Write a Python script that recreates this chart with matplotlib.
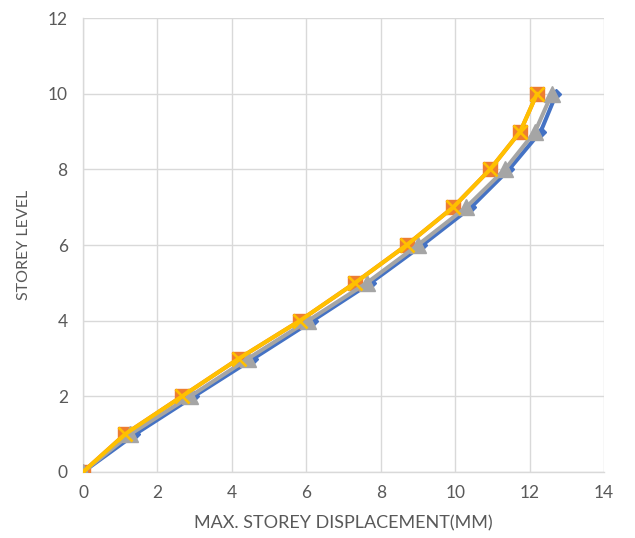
import matplotlib
matplotlib.use("Agg")
import matplotlib.pyplot as plt

storey = [0, 1, 2, 3, 4, 5, 6, 7, 8, 9, 10]
disp_blue = [0, 1.40, 2.98, 4.58, 6.17, 7.73, 9.12, 10.43, 11.45, 12.30, 12.72]
disp_orange = [0, 1.13, 2.66, 4.19, 5.83, 7.31, 8.70, 9.95, 10.94, 11.75, 12.20]
disp_gray = [0, 1.27, 2.88, 4.44, 6.05, 7.63, 9.00, 10.30, 11.34, 12.15, 12.60]
disp_yellow = [0, 1.13, 2.66, 4.19, 5.83, 7.31, 8.70, 9.95, 10.94, 11.75, 12.20]

xticks = [0, 2, 4, 6, 8, 10, 12, 14]
yticks = [0, 2, 4, 6, 8, 10, 12]

plt.rcParams['font.family'] = ['Lato', 'DejaVu Sans']

fig = plt.figure(figsize=(6.35, 5.38), dpi=100)
ax = fig.add_axes([83 / 635, 1 - 472 / 538, (604 - 83) / 635, (472 - 18) / 538])

ax.plot(disp_blue, storey, color='#4472C4', lw=2.9, marker='D', ms=5.5,
        mec='#4472C4', mfc='#4472C4', zorder=3, solid_capstyle='round')
ax.plot(disp_orange, storey, color='#ED7D31', lw=2.9, marker='s', ms=9.5,
        mec='#ED7D31', mfc='#ED7D31', zorder=4, solid_capstyle='round')
ax.plot(disp_gray, storey, color='#A5A5A5', lw=2.9, marker='^', ms=11,
        mec='#A5A5A5', mfc='#A5A5A5', zorder=5, solid_capstyle='round')
ax.plot(disp_yellow, storey, color='#FFC000', lw=2.9, marker='x', ms=9.5,
        mew=1.9, mec='#FFC000', zorder=6, solid_capstyle='round')

ax.set_xlim(0, 14)
ax.set_ylim(0, 12)
ax.set_xticks(xticks)
ax.set_yticks(yticks)
ax.grid(True, color='#D9D9D9', lw=1.0)
ax.set_axisbelow(True)
for side in ['top', 'right']:
    ax.spines[side].set_visible(False)
for side in ['left', 'bottom']:
    ax.spines[side].set_color('#D9D9D9')
    ax.spines[side].set_linewidth(1.0)
ax.tick_params(length=0, labelsize=12.5, labelcolor='#595959', pad=9)
ax.tick_params(axis='y', pad=11)

ax.set_xlabel('MAX. STOREY DISPLACEMENT(MM)', fontsize=13, color='#595959', labelpad=11)
ax.set_ylabel('STOREY LEVEL', fontsize=11.5, color='#595959', labelpad=12)

fig.savefig('out.png', dpi=100, facecolor='white')
